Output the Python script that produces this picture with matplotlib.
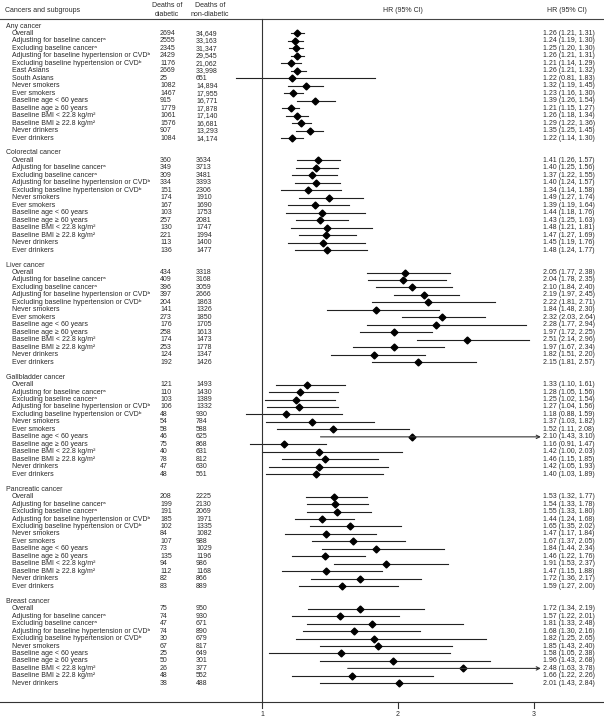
import numpy as np
import matplotlib.pyplot as plt
from matplotlib.transforms import blended_transform_factory

plt.rcParams['font.family'] = ['Liberation Sans', 'DejaVu Sans']

SUB = ["Overall", "Adjusting for baseline cancer\u1d43", "Excluding baseline cancer\u1d43",
       "Adjusting for baseline hypertension or CVD\u1d47",
       "Excluding baseline hypertension or CVD\u1d47"]
TAIL = ["Never smokers", "Ever smokers", "Baseline age < 60 years", "Baseline age \u2265 60 years",
        "Baseline BMI < 22.8 kg/m\u00b2", "Baseline BMI \u2265 22.8 kg/m\u00b2",
        "Never drinkers", "Ever drinkers"]

groups = ["Any cancer", "Colorectal cancer", "Liver cancer", "Gallbladder cancer",
          "Pancreatic cancer", "Breast cancer"]

subgroups = [
    SUB + ["East Asians", "South Asians"] + TAIL,
    SUB + TAIL,
    SUB + TAIL,
    SUB + TAIL,
    SUB + TAIL,
    SUB + ["Never smokers"] + TAIL[2:7],
]

deaths_dm = [
    ["2694", "2555", "2345", "2429", "1176", "2669", "25", "1082", "1467", "915", "1779", "1061", "1576", "907", "1084"],
    ["360", "349", "309", "334", "151", "174", "167", "103", "257", "130", "221", "113", "136"],
    ["434", "409", "396", "397", "204", "141", "273", "176", "258", "174", "253", "124", "192"],
    ["121", "110", "103", "106", "48", "54", "58", "46", "75", "40", "78", "47", "48"],
    ["208", "199", "191", "185", "102", "84", "107", "73", "135", "94", "112", "82", "83"],
    ["75", "74", "47", "74", "30", "67", "25", "50", "26", "48", "38"],
]
deaths_nondm = [
    ["34,649", "33,163", "31,347", "29,545", "21,062", "33,998", "651", "14,894", "17,955", "16,771",
     "17,878", "17,140", "16,681", "13,293", "14,174"],
    ["3634", "3713", "3481", "3393", "2306", "1910", "1690", "1753", "2081", "1747", "1994", "1400", "1477"],
    ["3318", "3168", "3059", "2666", "1863", "1326", "1850", "1705", "1613", "1473", "1778", "1347", "1426"],
    ["1493", "1430", "1389", "1332", "930", "784", "588", "625", "868", "631", "812", "630", "561"],
    ["2225", "2130", "2069", "1971", "1335", "1082", "988", "1029", "1196", "986", "1168", "866", "889"],
    ["950", "930", "671", "890", "679", "817", "649", "301", "377", "552", "488"],
]
hr = [
    [1.26, 1.24, 1.25, 1.26, 1.21, 1.26, 1.22, 1.32, 1.23, 1.39, 1.21, 1.26, 1.29, 1.35, 1.22],
    [1.41, 1.40, 1.37, 1.40, 1.34, 1.49, 1.39, 1.44, 1.43, 1.48, 1.47, 1.45, 1.48],
    [2.05, 2.04, 2.10, 2.19, 2.22, 1.84, 2.32, 2.28, 1.97, 2.51, 1.97, 1.82, 2.15],
    [1.33, 1.28, 1.25, 1.27, 1.18, 1.37, 1.52, 2.10, 1.16, 1.42, 1.46, 1.42, 1.40],
    [1.53, 1.54, 1.55, 1.44, 1.65, 1.47, 1.67, 1.84, 1.46, 1.91, 1.47, 1.72, 1.59],
    [1.72, 1.57, 1.81, 1.68, 1.82, 1.85, 1.58, 1.96, 2.48, 1.66, 2.01],
]
lo = [
    [1.21, 1.19, 1.20, 1.21, 1.14, 1.21, 0.81, 1.19, 1.16, 1.26, 1.15, 1.18, 1.22, 1.25, 1.14],
    [1.26, 1.25, 1.22, 1.24, 1.14, 1.27, 1.19, 1.18, 1.25, 1.21, 1.27, 1.19, 1.24],
    [1.77, 1.78, 1.84, 1.97, 1.81, 1.48, 2.03, 1.77, 1.72, 2.14, 1.67, 1.51, 1.81],
    [1.10, 1.05, 1.02, 1.04, 0.88, 1.03, 1.11, 1.43, 0.91, 1.00, 1.15, 1.05, 1.03],
    [1.32, 1.33, 1.33, 1.24, 1.35, 1.17, 1.37, 1.44, 1.22, 1.53, 1.15, 1.36, 1.27],
    [1.34, 1.22, 1.33, 1.30, 1.25, 1.43, 1.05, 1.43, 1.63, 1.22, 1.43],
]
hi = [
    [1.31, 1.30, 1.30, 1.31, 1.29, 1.32, 1.83, 1.45, 1.30, 1.54, 1.27, 1.34, 1.36, 1.45, 1.30],
    [1.57, 1.56, 1.55, 1.57, 1.58, 1.74, 1.64, 1.76, 1.63, 1.81, 1.69, 1.76, 1.77],
    [2.38, 2.35, 2.40, 2.45, 2.71, 2.30, 2.64, 2.94, 2.25, 2.96, 2.34, 2.20, 2.57],
    [1.61, 1.56, 1.54, 1.56, 1.59, 1.82, 2.08, 3.10, 1.47, 2.03, 1.85, 1.93, 1.89],
    [1.77, 1.78, 1.80, 1.68, 2.02, 1.84, 2.05, 2.34, 1.76, 2.37, 1.88, 2.17, 2.00],
    [2.19, 2.01, 2.48, 2.16, 2.65, 2.40, 2.38, 2.68, 3.78, 2.26, 2.84],
]
ticks = [1, 2, 3]

W, H = 604, 719
fig = plt.figure(figsize=(W / 100, H / 100), dpi=100)
ax = fig.add_axes([0, 0, 1, 1])
ax.axis('off')

# pixel mapping: HR 1 at x=262, 136 px per unit; row 0 at y=26, 7.47 px per row
px1, ppu = 262, 136
y0, ppr = 26, 7.47
ax.set_xlim(1 - px1 / ppu, 1 + (W - px1) / ppu)
ax.set_ylim((H - y0) / ppr, -y0 / ppr)
xmax_arrow = 3.05

def prow(p):
    return (p - y0) / ppr

tr = blended_transform_factory(fig.transFigure, ax.transData)
fx = lambda p: p / W
fs = 5.0
tc = '#2a2a2a'

# header
ax.text(fx(5), prow(11), "Cancers and subgroups", transform=tr, fontsize=fs, color=tc, va='center')
ax.text(fx(167), prow(10), "Deaths of\ndiabetic", transform=tr, fontsize=fs, color=tc,
        va='center', ha='center', linespacing=1.25)
ax.text(fx(210), prow(10), "Deaths of\nnon-diabetic", transform=tr, fontsize=fs, color=tc,
        va='center', ha='center', linespacing=1.25)
ax.text(fx(403), prow(11), "HR (95% CI)", transform=tr, fontsize=fs, color=tc, va='center', ha='center')
ax.text(fx(567), prow(11), "HR (95% CI)", transform=tr, fontsize=fs, color=tc, va='center', ha='center')
ax.plot([ax.get_xlim()[0], ax.get_xlim()[1]], [prow(19), prow(19)], color='#444444', lw=0.8)

row = 0
for g, name in enumerate(groups):
    ax.text(fx(6), row, name, transform=tr, fontsize=fs, color=tc, va='center')
    row += 1
    for i, lab in enumerate(subgroups[g]):
        ax.text(fx(12), row, lab, transform=tr, fontsize=fs, color=tc, va='center')
        ax.text(fx(160), row, deaths_dm[g][i], transform=tr, fontsize=fs, color=tc, va='center')
        ax.text(fx(196), row, deaths_nondm[g][i], transform=tr, fontsize=fs, color=tc, va='center')
        ax.text(fx(543), row, f"{hr[g][i]:.2f} ({lo[g][i]:.2f}, {hi[g][i]:.2f})", transform=tr,
                fontsize=fs, color=tc, va='center')
        if hi[g][i] > xmax_arrow:
            ax.annotate("", xy=(xmax_arrow, row), xytext=(lo[g][i], row),
                        arrowprops=dict(arrowstyle='->', color='#333333', lw=0.8,
                                        shrinkA=0, shrinkB=0, mutation_scale=6))
        else:
            ax.plot([lo[g][i], hi[g][i]], [row, row], color='#222222', lw=0.8)
        ax.plot(hr[g][i], row, marker='D', ms=3.5, color='black')
        row += 1
    row += 1

# reference line and axis
y_axis = prow(702)
ax.plot([1, 1], [prow(19), y_axis], color='#333333', lw=0.8)
ax.plot([ax.get_xlim()[0], ax.get_xlim()[1]], [y_axis, y_axis], color='#333333', lw=0.8)
for t in ticks:
    ax.plot([t, t], [y_axis, prow(708)], color='#333333', lw=0.8)
    ax.text(t, prow(714), str(t), fontsize=fs, color=tc, ha='center', va='center')

fig.savefig("out.png", dpi=100)
